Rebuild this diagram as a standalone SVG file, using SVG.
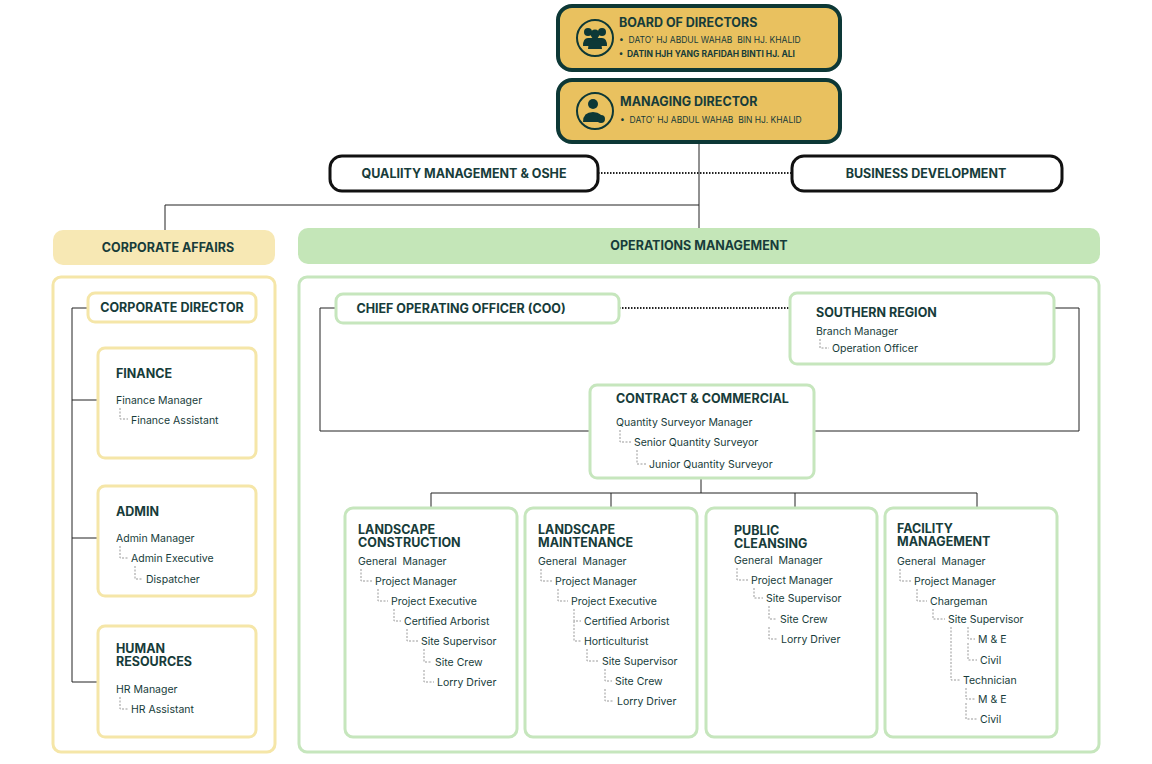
<svg xmlns="http://www.w3.org/2000/svg" width="1152" height="764" viewBox="0 0 1152 764">
<style>
text{font-family:Inter,"Noto Sans",sans-serif;fill:#173c3a;white-space:pre}
.h{font-size:12.5px;font-weight:700}
.b{font-size:10.5px}
.s{font-size:8.5px}
.gold{fill:#e9c15f;stroke:#0d3836;stroke-width:4}
.wb{fill:#fff;stroke:#111;stroke-width:3}
.yb{fill:#fff;stroke:#f5e6a8;stroke-width:3}
.gb{fill:#fff;stroke:#c6e6bd;stroke-width:3}
.ln{fill:none;stroke:#222;stroke-width:1}
.tr{fill:none;stroke:#999;stroke-width:1;stroke-dasharray:2 1.5}
.dot{stroke:#222;stroke-width:2;stroke-dasharray:1.5 1.5}
</style>
<rect class="yb" x="53" y="277" width="222" height="475" rx="8"/>
<rect class="gb" x="299" y="277" width="800" height="475" rx="8"/>
<g id="connectors">
<path class="ln" d="M699 142V228M165 230V205H699"/>
<line class="dot" x1="598" y1="173" x2="792" y2="173"/>
<line class="dot" x1="619" y1="308" x2="790" y2="308"/>
<path class="ln" d="M72 308V682M72 308H88M72 400H98M72 538H98M72 682H98"/>
<path class="ln" d="M336 308H320V431H590M1054 308H1079V431H814"/>
<path class="ln" d="M701 478V493M431 493H977M431 493V508M611 493V508M795 493V508M977 493V508"/>
</g>
<g id="board">
<rect class="gold" x="558" y="6" width="282" height="64" rx="14"/>
<circle cx="595" cy="38" r="18" fill="none" stroke="#0d3836" stroke-width="2"/>
<g fill="#0d3836"><circle cx="588" cy="32" r="4"/><circle cx="602" cy="32" r="4"/><circle cx="595" cy="34" r="4.5"/><path d="M583 46q0-8 5-8h14q5 0 5 8z"/><path d="M588 49q0-9 7-9t7 9z"/></g>
<text class="h" x="619" y="27">BOARD OF DIRECTORS</text>
<text class="s" x="619" y="43">•  DATO' HJ ABDUL WAHAB  BIN HJ. KHALID</text>
<text class="s" x="619" y="57" font-weight="700">•  DATIN HJH YANG RAFIDAH BINTI HJ. ALI</text>
</g>
<g id="md">
<rect class="gold" x="558" y="80" width="282" height="62" rx="14"/>
<circle cx="595" cy="111" r="18" fill="none" stroke="#0d3836" stroke-width="2"/>
<g fill="#0d3836"><circle cx="593" cy="104" r="5"/><path d="M583 122q0-10 10-10t10 10z"/><circle cx="601" cy="119" r="4"/></g>
<text class="h" x="620" y="106">MANAGING DIRECTOR</text>
<text class="s" x="620" y="123">•  DATO' HJ ABDUL WAHAB  BIN HJ. KHALID</text>
</g>
<g id="qm"><rect class="wb" x="330" y="156" width="268" height="35" rx="12"/><text class="h" x="464" y="178" text-anchor="middle" font-size="11.5">QUALIITY MANAGEMENT &amp; OSHE</text></g>
<g id="bd"><rect class="wb" x="792" y="156" width="270" height="35" rx="12"/><text class="h" x="926" y="178" text-anchor="middle" font-size="11.5">BUSINESS DEVELOPMENT</text></g>
<g id="corp-header"><rect x="53" y="230" width="222" height="35" rx="10" fill="#f7e8b4"/><text class="h" x="168" y="252" text-anchor="middle">CORPORATE AFFAIRS</text></g>
<g id="ops-header"><rect x="298" y="228" width="802" height="36" rx="10" fill="#c4e6b8"/><text class="h" x="699" y="250" text-anchor="middle">OPERATIONS MANAGEMENT</text></g>
<g id="corp-director"><rect class="yb" x="88" y="293" width="168" height="29" rx="7"/><text class="h" x="172" y="312" text-anchor="middle" font-size="11.5">CORPORATE DIRECTOR</text></g>
<g id="finance"><rect class="yb" x="98" y="348" width="158" height="110" rx="7"/><text class="h" x="116" y="378" font-size="11.5">FINANCE</text><text class="b" x="116" y="404">Finance Manager</text><text class="b" x="131" y="424">Finance Assistant</text><path class="tr" d="M120 408V419H128"/></g>
<g id="admin"><rect class="yb" x="98" y="486" width="158" height="110" rx="7"/><text class="h" x="116" y="516" font-size="11.5">ADMIN</text><text class="b" x="116" y="542">Admin Manager</text><text class="b" x="131" y="562">Admin Executive</text><text class="b" x="146" y="583">Dispatcher</text><path class="tr" d="M120 546V558H128M135 566V579H143"/></g>
<g id="hr"><rect class="yb" x="98" y="626" width="158" height="111" rx="7"/><text class="h" x="116" y="653" font-size="11.5">HUMAN</text><text class="h" x="116" y="666" font-size="11.5">RESOURCES</text><text class="b" x="116" y="693">HR Manager</text><text class="b" x="131" y="713">HR Assistant</text><path class="tr" d="M120 697V709H128"/></g>
<g id="coo"><rect class="gb" x="336" y="294" width="283" height="29" rx="7"/><text class="h" x="461" y="313" text-anchor="middle" font-size="11.5">CHIEF OPERATING OFFICER (COO)</text></g>
<g id="southern"><rect class="gb" x="790" y="293" width="264" height="71" rx="7"/><text class="h" x="816" y="317" font-size="11.5">SOUTHERN REGION</text><text class="b" x="816" y="335">Branch Manager</text><text class="b" x="832" y="352">Operation Officer</text><path class="tr" d="M820 339V348H829"/></g>
<g id="contract"><rect class="gb" x="590" y="385" width="224" height="93" rx="7"/><text class="h" x="616" y="403" font-size="11.5">CONTRACT &amp; COMMERCIAL</text><text class="b" x="616" y="426">Quantity Surveyor Manager</text><text class="b" x="634" y="446">Senior Quantity Surveyor</text><text class="b" x="649" y="468">Junior Quantity Surveyor</text><path class="tr" d="M620 430V442H631M637 450V464H646"/></g>
<g id="lc"><rect class="gb" x="345" y="508" width="172" height="229" rx="8"/><text class="h" x="358" y="534" font-size="11.5">LANDSCAPE</text><text class="h" x="358" y="547" font-size="11.5">CONSTRUCTION</text>
<text class="b" x="358" y="565">General  Manager</text><text class="b" x="375" y="585">Project Manager</text><text class="b" x="391" y="605">Project Executive</text><text class="b" x="404" y="625">Certified Arborist</text><text class="b" x="421" y="645">Site Supervisor</text><text class="b" x="435" y="666">Site Crew</text><text class="b" x="437" y="686">Lorry Driver</text>
<path class="tr" d="M361 569V581H372M378 589V601H388M394 609V621H401M407 629V641H418M424 649V662H432M424 670V682H434"/></g>
<g id="lm"><rect class="gb" x="525" y="508" width="172" height="229" rx="8"/><text class="h" x="538" y="534" font-size="11.5">LANDSCAPE</text><text class="h" x="538" y="547" font-size="11.5">MAINTENANCE</text>
<text class="b" x="538" y="565">General  Manager</text><text class="b" x="555" y="585">Project Manager</text><text class="b" x="571" y="605">Project Executive</text><text class="b" x="584" y="625">Certified Arborist</text><text class="b" x="584" y="645">Horticulturist</text><text class="b" x="602" y="665">Site Supervisor</text><text class="b" x="615" y="685">Site Crew</text><text class="b" x="617" y="705">Lorry Driver</text>
<path class="tr" d="M541 569V581H552M558 589V601H568M574 609V621H581M574 621V641H581M587 649V661H599M605 669V681H612M605 689V701H614"/></g>
<g id="pc"><rect class="gb" x="706" y="508" width="171" height="229" rx="8"/><text class="h" x="734" y="535" font-size="11.5">PUBLIC</text><text class="h" x="734" y="548" font-size="11.5">CLEANSING</text>
<text class="b" x="734" y="564">General  Manager</text><text class="b" x="751" y="584">Project Manager</text><text class="b" x="766" y="602">Site Supervisor</text><text class="b" x="780" y="623">Site Crew</text><text class="b" x="781" y="643">Lorry Driver</text>
<path class="tr" d="M737 568V580H748M754 588V598H763M769 606V619H777M769 627V639H778"/></g>
<g id="fm"><rect class="gb" x="885" y="508" width="172" height="229" rx="8"/><text class="h" x="897" y="533" font-size="11.5">FACILITY</text><text class="h" x="897" y="546" font-size="11.5">MANAGEMENT</text>
<text class="b" x="897" y="565">General  Manager</text><text class="b" x="914" y="585">Project Manager</text><text class="b" x="930" y="605">Chargeman</text><text class="b" x="948" y="623">Site Supervisor</text><text class="b" x="978" y="643">M &amp; E</text><text class="b" x="980" y="664">Civil</text><text class="b" x="963" y="684">Technician</text><text class="b" x="978" y="703">M &amp; E</text><text class="b" x="980" y="723">Civil</text>
<path class="tr" d="M900 569V581H911M917 589V601H927M933 609V619H945M968 627V639H975M968 643V660H977M951 627V680H960M966 688V699H975M966 703V719H977"/></g>
</svg>
